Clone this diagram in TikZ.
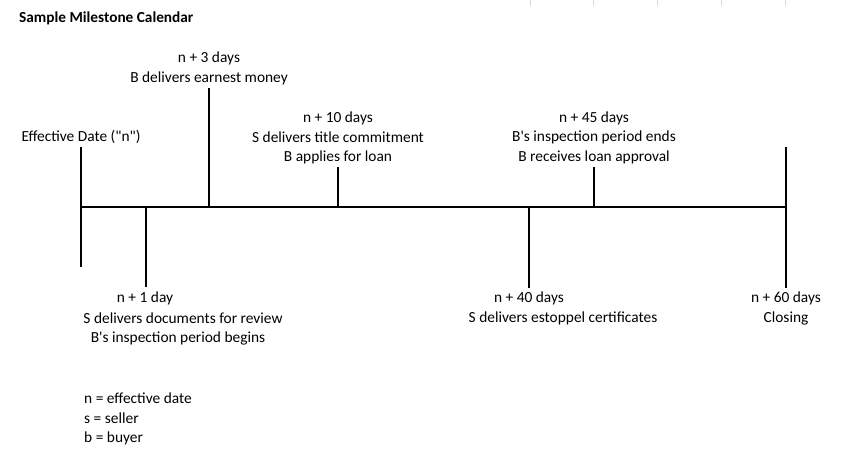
\documentclass[tikz,border=0pt]{standalone}
\usepackage{fontspec}
\setmainfont{Carlito}[Ligatures=TeXOff]
\begin{document}
\begin{tikzpicture}[x=1pt,y=-1pt,
  lbl/.style={inner sep=0pt,font=\fontsize{15.4}{18}\selectfont},
  tick/.style={line width=1.2pt},
  axis/.style={line width=2.6pt},
  grid/.style={line width=0.8pt,black!15}]
\useasboundingbox[fill=white] (0,0) rectangle (845,459);
% faint grid marks at top
\foreach \gx in {530,593,657,721,785}{\draw[grid] (\gx,0) -- (\gx,6);}
% title
\node[lbl,anchor=west,font=\fontsize{15.3}{18}\selectfont\bfseries] (title) at (19,18) {Sample Milestone Calendar};
% axis
\coordinate (a0) at (80,207);
\coordinate (a1) at (787,207);
\draw[axis] (a0) -- (a1);
% ticks
\coordinate (t0a) at (81,147); \coordinate (t0b) at (81,267);
\coordinate (t1a) at (146,207); \coordinate (t1b) at (146,287);
\coordinate (t3a) at (209,88); \coordinate (t3b) at (209,207);
\coordinate (t10a) at (338,167); \coordinate (t10b) at (338,207);
\coordinate (t40a) at (529,207); \coordinate (t40b) at (529,288);
\coordinate (t45a) at (594,167); \coordinate (t45b) at (594,207);
\coordinate (t60a) at (786,147); \coordinate (t60b) at (786,288);
\foreach \t in {t0,t1,t3,t10,t40,t45,t60}{\draw[tick] (\t a) -- (\t b);}
% labels
\node[lbl] (eff) at (81,137) {Effective Date ("n")};
\node[lbl] (d3a) at (209,58) {n + 3 days};
\node[lbl] (d3b) at (209,78) {B delivers earnest money};
\node[lbl] (d10a) at (338,118) {n + 10 days};
\node[lbl] (d10b) at (338,137) {S delivers title commitment};
\node[lbl] (d10c) at (338,157) {B applies for loan};
\node[lbl] (d45a) at (594,118) {n + 45 days};
\node[lbl] (d45b) at (594,137) {B's inspection period ends};
\node[lbl] (d45c) at (594,157) {B receives loan approval};
\node[lbl] (d1a) at (145,298) {n + 1 day};
\node[lbl] (d1b) at (183,318) {S delivers documents for review};
\node[lbl] (d1c) at (178,338) {B's inspection period begins};
\node[lbl] (d40a) at (529,298) {n + 40 days};
\node[lbl] (d40b) at (563,318) {S delivers estoppel certificates};
\node[lbl] (d60a) at (786,298) {n + 60 days};
\node[lbl] (d60b) at (786,318) {Closing};
% legend
\node[lbl,anchor=west] (l1) at (84,398) {n = effective date};
\node[lbl,anchor=west] (l2) at (84,418) {s = seller};
\node[lbl,anchor=west] (l3) at (84,438) {b = buyer};
\end{tikzpicture}
\end{document}
